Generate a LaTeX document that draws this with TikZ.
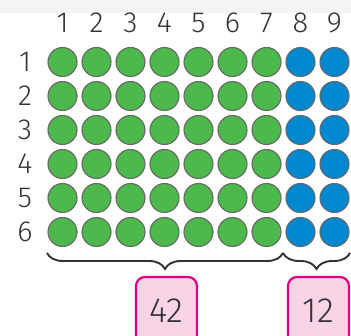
\documentclass[tikz,border=0pt]{standalone}
\usepackage{fontspec}
\setmainfont{Fira Sans}[UprightFont={* Light}]
\usepackage{tikz}
\usetikzlibrary{positioning,calc,decorations.pathreplacing}
\definecolor{ink}      {HTML}{333333}
\definecolor{rim}      {HTML}{686868}
\definecolor{leaf}     {HTML}{4DB84B}
\definecolor{sea}      {HTML}{0288D1}
\definecolor{magenta}  {HTML}{E6007E}
\definecolor{blush}    {HTML}{F9D4E6}
\definecolor{haze}     {HTML}{F4F4F4}
\tikzset{
  every node/.style={font=\fontsize{29}{29}\selectfont, text=ink},
  % --- nodes
  dot/.style   = {circle, draw=rim, line width=1.1pt, minimum size=29pt, inner sep=0pt},
  gdot/.style  = {dot, fill=leaf},
  bdot/.style  = {dot, fill=sea},
  num/.style   = {inner sep=0pt},
  tally/.style = {rounded corners=9pt, draw=magenta, fill=blush, line width=2.2pt,
                  minimum width=61pt, minimum height=68pt, inner sep=0pt,
                  font=\fontsize{35}{35}\selectfont},
  % --- edges
  brc/.style   = {decorate, decoration={brace, mirror, amplitude=16pt},
                  line width=1.9pt, draw=ink},
}
\begin{document}
\begin{tikzpicture}[x=1pt,y=-1pt]
  \useasboundingbox (0,0) rectangle (351,336);
  \fill[haze] (0,0) rectangle (351,13);
  % column and row labels
  \foreach \c in {1,...,9}
    \node[num] (col\c) at (28.5+34*\c,23) {\c};
  \foreach \r in {1,...,6}
    \node[num] (row\r) at (25,28+34*\r) {\r};
  % the grid of dots
  \foreach \r in {1,...,6}{
    \foreach \c in {1,...,7}
      \node[gdot] (d\r-\c) at (28.5+34*\c,28+34*\r) {};
    \foreach \c in {8,9}
      \node[bdot] (d\r-\c) at (28.5+34*\c,28+34*\r) {};
  }
  % braces
  \coordinate (bl) at (47,253);
  \coordinate (bm) at (283,253);
  \coordinate (br) at (350,253);
  \draw[brc] (bl) -- (bm);
  \draw[brc] (bm) -- (br);
  % totals
  \node[tally] (left)  at (166.5,311) {42};
  \node[tally] (right) at (318.5,311) {12};
\end{tikzpicture}
\end{document}
